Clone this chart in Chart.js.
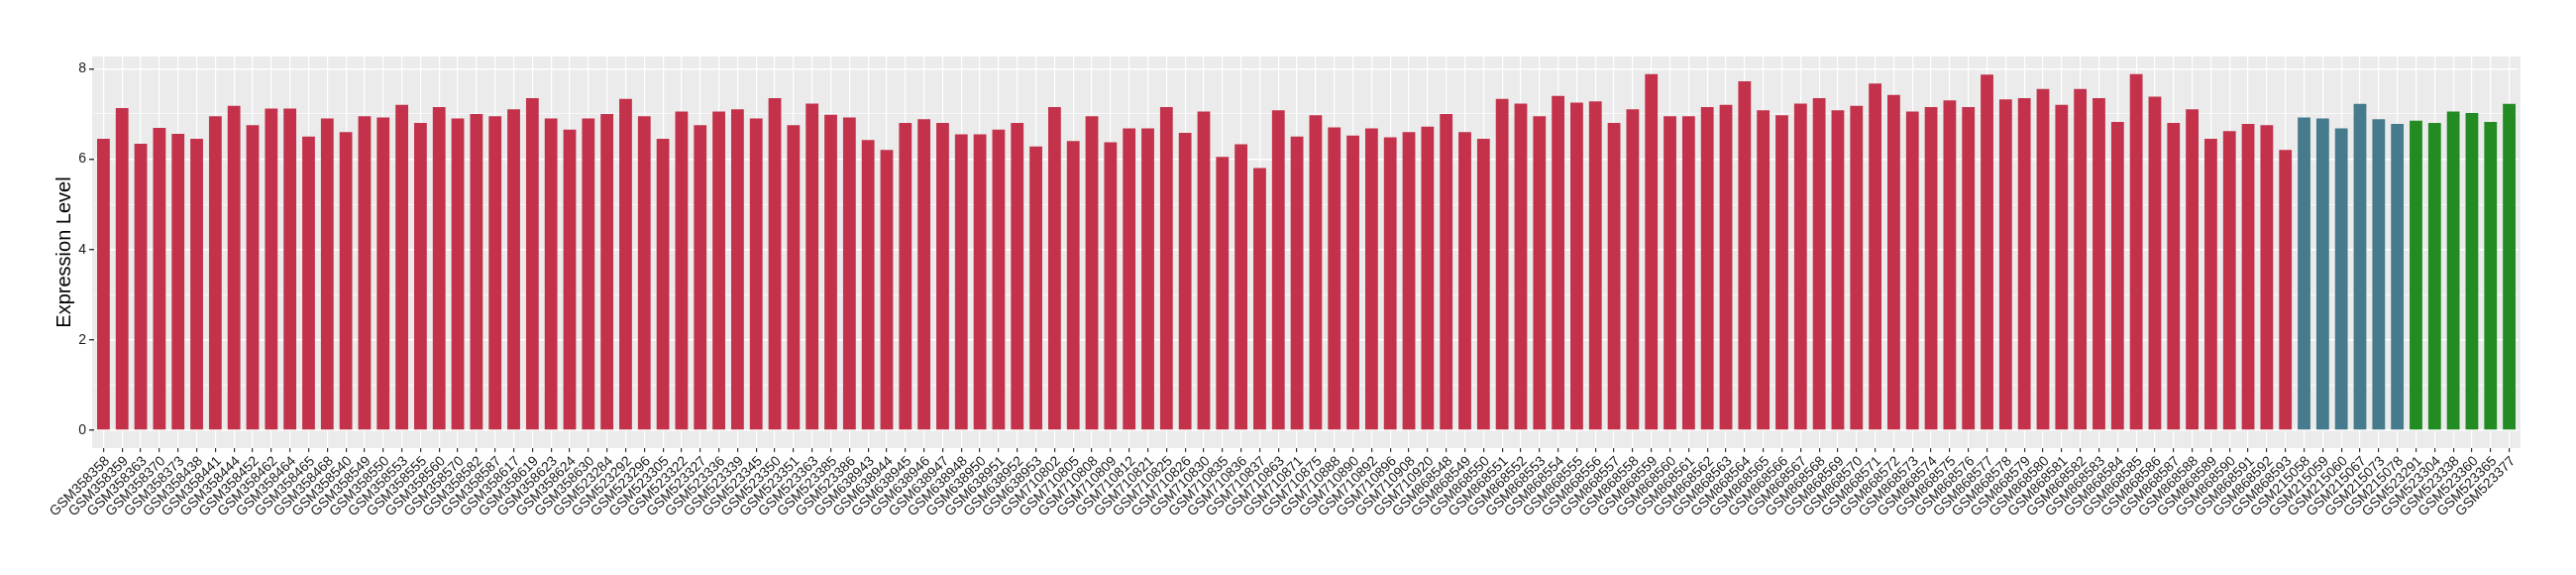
<!DOCTYPE html>
<html>
<head>
<meta charset="utf-8">
<script src="https://cdn.jsdelivr.net/npm/chart.js@4/dist/chart.umd.min.js"></script>
<style>
  html, body { margin: 0; padding: 0; background: #fff; }
  #wrap { width: 2600px; height: 580px; }
</style>
</head>
<body>
<div id="wrap"><canvas id="chart" width="2600" height="580"></canvas></div>
<script>
// ---------------- DATA ----------------
const idsRed = [
  "GSM358358","GSM358359","GSM358363","GSM358370","GSM358373","GSM358438","GSM358441","GSM358444",
  "GSM358452","GSM358462","GSM358464","GSM358465","GSM358468","GSM358540","GSM358549","GSM358550",
  "GSM358553","GSM358555","GSM358560","GSM358570","GSM358582","GSM358587","GSM358617","GSM358619",
  "GSM358623","GSM358624","GSM358630","GSM523284","GSM523292","GSM523296","GSM523305","GSM523322",
  "GSM523327","GSM523336","GSM523339","GSM523345","GSM523350","GSM523351","GSM523363","GSM523385",
  "GSM523386","GSM638943","GSM638944","GSM638945","GSM638946","GSM638947","GSM638948","GSM638950",
  "GSM638951","GSM638952","GSM638953","GSM710802","GSM710805","GSM710808","GSM710809","GSM710812",
  "GSM710821","GSM710825","GSM710826","GSM710830","GSM710835","GSM710836","GSM710837","GSM710863",
  "GSM710871","GSM710875","GSM710888","GSM710890","GSM710892","GSM710896","GSM710908","GSM710920",
  "GSM868548","GSM868549","GSM868550","GSM868551","GSM868552","GSM868553","GSM868554","GSM868555",
  "GSM868556","GSM868557","GSM868558","GSM868559","GSM868560","GSM868561","GSM868562","GSM868563",
  "GSM868564","GSM868565","GSM868566","GSM868567","GSM868568","GSM868569","GSM868570","GSM868571",
  "GSM868572","GSM868573","GSM868574","GSM868575","GSM868576","GSM868577","GSM868578","GSM868579",
  "GSM868580","GSM868581","GSM868582","GSM868583","GSM868584","GSM868585","GSM868586","GSM868587",
  "GSM868588","GSM868589","GSM868590","GSM868591","GSM868592","GSM868593"
];
const valsRed = [
  6.45, 7.13, 6.34, 6.69, 6.56, 6.45, 6.95, 7.18,
  6.75, 7.12, 7.12, 6.50, 6.90, 6.60, 6.95, 6.92,
  7.20, 6.80, 7.15, 6.90, 7.00, 6.95, 7.10, 7.35,
  6.90, 6.65, 6.90, 7.00, 7.33, 6.95, 6.45, 7.05,
  6.75, 7.05, 7.10, 6.90, 7.35, 6.75, 7.23, 6.98,
  6.92, 6.42, 6.20, 6.80, 6.88, 6.80, 6.55, 6.55,
  6.65, 6.80, 6.28, 7.15, 6.40, 6.95, 6.37, 6.68,
  6.68, 7.15, 6.58, 7.05, 6.05, 6.33, 5.80, 7.08,
  6.50, 6.97, 6.70, 6.52, 6.68, 6.48, 6.60, 6.72,
  7.00, 6.60, 6.45, 7.33, 7.23, 6.95, 7.40, 7.25,
  7.28, 6.80, 7.10, 7.88, 6.95, 6.95, 7.15, 7.20,
  7.72, 7.08, 6.97, 7.23, 7.35, 7.08, 7.18, 7.67,
  7.42, 7.05, 7.15, 7.30, 7.15, 7.87, 7.32, 7.35,
  7.55, 7.20, 7.55, 7.35, 6.82, 7.88, 7.38, 6.80,
  7.10, 6.45, 6.62, 6.78, 6.75, 6.20
];
const idsBlue = ["GSM215058","GSM215059","GSM215060","GSM215067","GSM215073","GSM215078"];
const valsBlue = [6.92, 6.90, 6.68, 7.22, 6.88, 6.78];
const idsGreen = ["GSM523291","GSM523304","GSM523338","GSM523360","GSM523365","GSM523377"];
const valsGreen = [6.85, 6.80, 7.05, 7.02, 6.82, 7.22];

const yMajor = [0, 2, 4, 6, 8];
const yMinor = [1, 3, 5, 7];

const RED = "#C3324A", BLUE = "#457B8D", GREEN = "#228B22";

const labels = [...idsRed, ...idsBlue, ...idsGreen];
const values = [...valsRed, ...valsBlue, ...valsGreen];
const colors = [
  ...idsRed.map(() => RED),
  ...idsBlue.map(() => BLUE),
  ...idsGreen.map(() => GREEN)
];

// grey ggplot panel
const panelBg = {
  id: "panelBg",
  beforeDraw(chart) {
    const { ctx, chartArea: a } = chart;
    ctx.save();
    ctx.fillStyle = "#EBEBEB";
    ctx.fillRect(a.left - 2, a.top, a.right - a.left + 4, a.bottom - a.top);
    ctx.restore();
  }
};

const FONT = "'Liberation Sans', Arial, sans-serif";

new Chart(document.getElementById("chart").getContext("2d"), {
  type: "bar",
  data: {
    labels: labels,
    datasets: [{
      data: values,
      backgroundColor: colors,
      borderWidth: 0,
      barPercentage: 0.68,
      categoryPercentage: 1.0
    }]
  },
  options: {
    responsive: false,
    animation: false,
    layout: { padding: { left: 0, right: 58, top: 57, bottom: 0 } },
    plugins: { legend: { display: false }, tooltip: { enabled: false } },
    scales: {
      x: {
        offset: true,
        grid: {
          offset: false,
          color: "#FFFFFF",
          lineWidth: 1.2,
          tickColor: "#333333",
          tickLength: 4,
          drawOnChartArea: true
        },
        border: { display: false },
        ticks: {
          autoSkip: false,
          maxRotation: 45,
          minRotation: 45,
          labelOffset: 4,
          padding: 1,
          color: "#1A1A1A",
          font: { family: FONT, size: 14 }
        },
        afterFit(scale) { scale.height = 128; }
      },
      y: {
        min: -0.395,
        max: 8.27,
        afterBuildTicks(scale) {
          scale.ticks = [...yMajor, ...yMinor].sort((a, b) => a - b).map(v => ({ value: v }));
        },
        grid: {
          color: "#FFFFFF",
          lineWidth: ctx => (yMinor.includes(ctx.tick && ctx.tick.value) ? 0.7 : 1.4),
          tickColor: ctx => (yMinor.includes(ctx.tick && ctx.tick.value) ? "rgba(0,0,0,0)" : "#333333"),
          tickLength: 5
        },
        border: { display: false },
        ticks: {
          padding: 3,
          color: "#1A1A1A",
          font: { family: FONT, size: 14 },
          callback: v => (yMajor.includes(v) ? String(v) : "")
        },
        title: {
          display: true,
          text: "Expression Level",
          color: "#000000",
          font: { family: FONT, size: 20 },
          padding: { top: 53, bottom: 0 }
        },
        afterFit(scale) { scale.width = 95; }
      }
    }
  },
  plugins: [panelBg]
});
</script>
</body>
</html>
